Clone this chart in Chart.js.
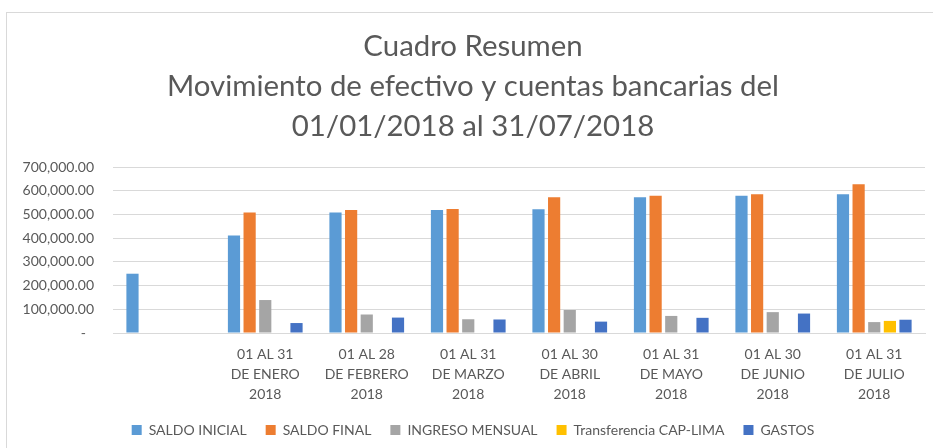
<!DOCTYPE html>
<html>
<head>
<meta charset="utf-8">
<script src="https://cdn.jsdelivr.net/npm/chart.js@4"></script>
<style>
  html, body { margin: 0; padding: 0; background: #fff; overflow: hidden; }
  #wrap { position: relative; width: 933px; height: 448px; }
  #frame { position: absolute; left: 6px; top: 12px; width: 960px; height: 460px; border: 1px solid #d9d9d9; box-sizing: border-box; }
  canvas { position: absolute; left: 0; top: 0; }
</style>
</head>
<body>
<div id="wrap">
  <div id="frame"></div>
  <canvas id="chart" width="933" height="448"></canvas>
</div>
<script>
// categories (first one has no label, only the opening balance)
var categories = [
  '',
  ['01 AL 31', 'DE ENERO', '2018'],
  ['01 AL 28', 'DE FEBRERO', '2018'],
  ['01 AL 31', 'DE MARZO', '2018'],
  ['01 AL 30', 'DE ABRIL', '2018'],
  ['01 AL 31', 'DE MAYO', '2018'],
  ['01 AL 30', 'DE JUNIO', '2018'],
  ['01 AL 31', 'DE JULIO', '2018']
];

var saldoInicial   = [250000, 411000, 508000, 519000, 522000, 572000, 579000, 585000];
var saldoFinal     = [null, 508000, 519000, 523000, 572000, 579000, 585000, 627000];
var ingresoMensual = [null, 139000, 78000, 58000, 97000, 72000, 88000, 46000];
var transferencia  = [null, null, null, null, null, null, null, 51000];
var gastos         = [null, 42000, 65000, 57000, 48000, 64000, 82000, 56000];

var yTicks = [0, 100000, 200000, 300000, 400000, 500000, 600000, 700000];

var titleLines = [
  'Cuadro Resumen',
  'Movimiento de efectivo y cuentas bancarias del',
  '01/01/2018 al 31/07/2018'
];

var grey = '#595959';
var gridColor = '#d9d9d9';

// fit the title font so the long line is as wide as in the picture
var mctx = document.createElement('canvas').getContext('2d');
mctx.font = '28px Lato';
var titleSize = Math.round(28 * 613 / mctx.measureText(titleLines[1]).width * 10) / 10;

function fmt(v) {
  // accounting style: zero shows as a dash
  if (v === 0) return '-\u2007';
  return v.toLocaleString('en-US', { minimumFractionDigits: 2, maximumFractionDigits: 2 });
}

var ctx = document.getElementById('chart').getContext('2d');
var chart = new Chart(ctx, {
  type: 'bar',
  data: {
    labels: categories,
    datasets: [
      { label: 'SALDO INICIAL', data: saldoInicial, backgroundColor: '#5B9BD5' },
      { label: 'SALDO FINAL', data: saldoFinal, backgroundColor: '#ED7D31' },
      { label: 'INGRESO MENSUAL', data: ingresoMensual, backgroundColor: '#A5A5A5' },
      { label: 'Transferencia CAP-LIMA', data: transferencia, backgroundColor: '#FFC000' },
      { label: 'GASTOS', data: gastos, backgroundColor: '#4472C4' }
    ]
  },
  options: {
    responsive: false,
    animation: false,
    devicePixelRatio: 1,
    categoryPercentage: 0.77,
    barPercentage: 0.78,
    layout: { padding: { left: 21, right: 8, top: 0, bottom: 1 } },
    plugins: {
      title: {
        display: true,
        text: titleLines,
        color: grey,
        font: { family: 'Lato', size: titleSize, weight: 'normal', lineHeight: 40 / titleSize },
        padding: { top: 27, bottom: 20 }
      },
      legend: {
        position: 'bottom',
        labels: {
          color: grey,
          font: { family: 'Lato', size: 14 },
          boxWidth: 10,
          boxHeight: 10,
          padding: 19
        }
      },
      tooltip: { enabled: false }
    },
    scales: {
      x: {
        grid: { display: false, drawTicks: false },
        border: { color: gridColor, width: 1 },
        afterFit: function (scale) { scale.height = 71; },
        ticks: {
          color: grey,
          font: { family: 'Lato', size: 14, lineHeight: 20 / 14 },
          maxRotation: 0,
          autoSkip: false,
          padding: 11
        }
      },
      y: {
        min: 0,
        max: 700000,
        afterBuildTicks: function (axis) {
          axis.ticks = yTicks.map(function (v) { return { value: v }; });
        },
        afterFit: function (scale) { scale.width = 92; },
        grid: { color: gridColor, lineWidth: 1, drawTicks: false },
        border: { display: false },
        ticks: {
          color: grey,
          font: { family: 'Lato', size: 14 },
          padding: 19,
          callback: function (v) { return fmt(v); }
        }
      }
    }
  }
});
</script>
</body>
</html>
